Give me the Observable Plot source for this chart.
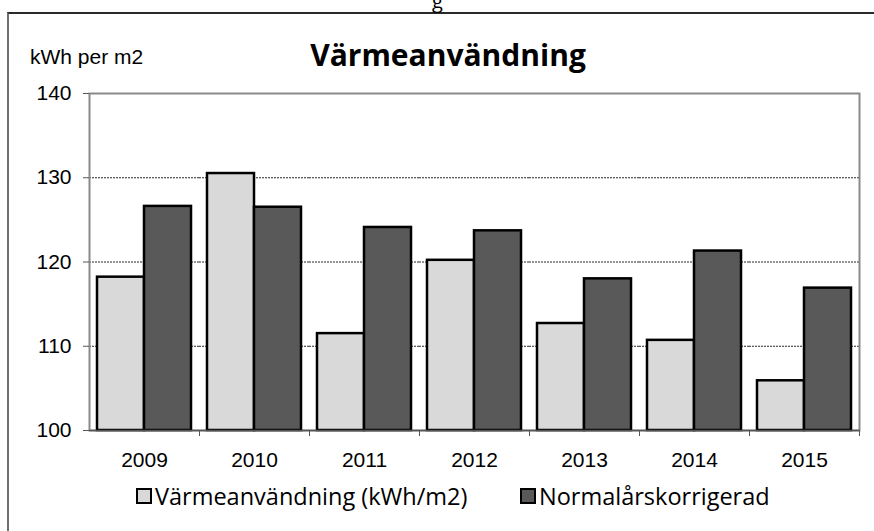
<!DOCTYPE html>
<html>
<head>
<meta charset="utf-8">
<script src="https://cdn.jsdelivr.net/npm/d3@7"></script>
<script src="https://cdn.jsdelivr.net/npm/@observablehq/plot@0.6"></script>
<style>
  html, body { margin: 0; padding: 0; background: #fff; }
  #wrap { position: relative; width: 874px; height: 531px; overflow: hidden; }
  #outer { position: absolute; left: 7px; top: 12px; width: 900px; height: 600px;
           border-left: 2px solid #6e6e6e; border-top: 2px solid #2a2a2a; }
  #cut { position: absolute; left: 432px; top: -13px; font-family: "Open Sans", sans-serif; font-size: 20px; color: #000; }
  #ylab { position: absolute; left: 30px; top: 45px; font-family: "Liberation Sans", Arial, sans-serif; font-size: 21px; color: #000; }
  #title { position: absolute; left: 0; width: 874px; top: 34px; text-align: center; padding-left: 22px; box-sizing: border-box;
           font-family: "Open Sans", sans-serif; font-weight: 700; font-size: 30px; color: #000; }
  #chart { position: absolute; left: 0; top: 0; }
  .leg { position: absolute; top: 480px; font-family: "Open Sans", sans-serif; font-size: 23.5px; color: #000; white-space: nowrap; display: flex; align-items: center; }
  .sw { width: 12px; height: 12px; border: 2px solid #000; margin-right: 3px; }
</style>
</head>
<body>
<div id="wrap">
  <div id="outer"></div>
  <div id="cut">g</div>
  <div id="chart"></div>
  <div id="ylab"></div>
  <div id="title"></div>
  <div class="leg" id="leg0" style="left:136px"></div>
  <div class="leg" id="leg1" style="left:520px"></div>
</div>
<script>
const titleText = "Värmeanvändning";
const yLabel = "kWh per m2";
const years = ["2009", "2010", "2011", "2012", "2013", "2014", "2015"];
const seriesNames = ["Värmeanvändning (kWh/m2)", "Normalårskorrigerad"];
const varme = [118.2, 130.5, 111.5, 120.2, 112.7, 110.7, 105.9];
const normal = [126.6, 126.5, 124.1, 123.7, 118.0, 121.3, 116.9];
const seriesColors = ["#d9d9d9", "#595959"];
const yTicks = [100, 110, 120, 130, 140];
const gridTicks = [110, 120, 130];

document.getElementById("title").textContent = titleText;
document.getElementById("ylab").textContent = yLabel;
seriesNames.forEach((s, i) => {
  const el = document.getElementById("leg" + i);
  const sw = document.createElement("div");
  sw.className = "sw";
  sw.style.background = seriesColors[i];
  const t = document.createElement("span");
  t.textContent = s;
  el.appendChild(sw);
  el.appendChild(t);
});

const data = years.flatMap((y, i) => [
  {year: y, series: seriesNames[0], value: varme[i]},
  {year: y, series: seriesNames[1], value: normal[i]}
]);

const chart = Plot.plot({
  width: 874,
  height: 531,
  marginLeft: 89,
  marginRight: 15,
  marginTop: 93,
  marginBottom: 101,
  style: {fontFamily: "'Liberation Sans', Arial, sans-serif", fontSize: "21px", color: "#000", background: "transparent", overflow: "visible"},
  fx: {domain: years, padding: 0, label: null, axis: null},
  x: {domain: seriesNames, paddingInner: 0, paddingOuter: 0.17, axis: null},
  y: {domain: [100, 140], label: null, axis: null},
  color: {domain: seriesNames, range: seriesColors},
  marks: [
    Plot.gridY(gridTicks, {stroke: "#000", strokeOpacity: 0.85, strokeDasharray: "2,1", strokeWidth: 1}),
    Plot.frame({facet: "super", stroke: "#8a8a8a", strokeWidth: 2}),
    Plot.barY(data, {fx: "year", x: "series", y1: 100, y2: "value", fill: "series", stroke: "#000", strokeWidth: 2.5}),
    Plot.ruleY([100], {stroke: "#555", strokeWidth: 1.5}),
    Plot.axisY(yTicks, {tickSize: 6, tickPadding: 12, stroke: "#555", label: null}),
    Plot.axisFx({anchor: "bottom", tickSize: 0, tickPadding: 22, label: null}),
    Plot.axisFx({anchor: "bottom", tickSize: 6, text: null, dx: 55, stroke: "#555", label: null})
  ]
});
document.getElementById("chart").appendChild(chart);
</script>
</body>
</html>
